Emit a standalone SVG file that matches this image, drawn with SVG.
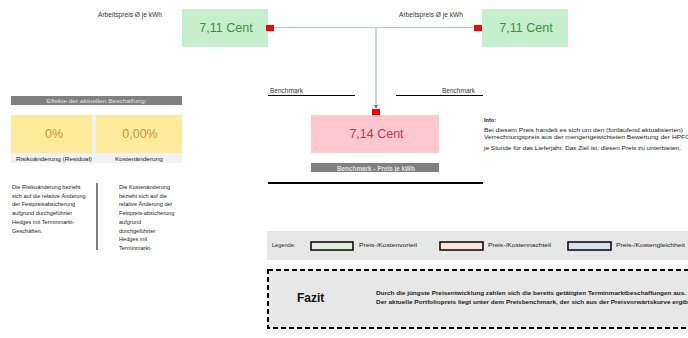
<svg xmlns="http://www.w3.org/2000/svg" width="688" height="338" viewBox="0 0 688 338">
<style>
text{font-family:"Liberation Sans",Arial,sans-serif}
.lbl{font-size:6.3px;fill:#333}
.big{font-size:12.5px}
.par{font-size:5.6px;fill:#222}
.b{font-weight:bold}
.red{fill:#ff0000}
.leg{stroke:#000;stroke-width:1.5}
.gtx{fill:#3c8f3c}
.rtx{fill:#c0394a}
.ytx{fill:#c9923a}
.wtx{fill:#e0e0e0}
</style>
<defs>
<marker id="ah" viewBox="0 0 6 6" refX="5" refY="3" markerWidth="4" markerHeight="4" orient="auto">
<path d="M0,0 L6,3 L0,6 z" fill="#4472c4"/>
</marker>
</defs>
<rect width="688" height="338" fill="#fff"/>

<g id="connectors">
<line x1="274" y1="27.5" x2="474" y2="27.5" stroke="#b4c7e7" stroke-width="1"/>
<line x1="376" y1="27.5" x2="376" y2="108" stroke="#8eaadb" stroke-width="1" marker-end="url(#ah)"/>
</g>

<g id="node-left-price">
<text class="lbl" x="98" y="17" textLength="64" lengthAdjust="spacingAndGlyphs">Arbeitspreis Ø je kWh</text>
<rect x="182" y="9" width="86" height="38" fill="#c6efce"/>
<text class="big gtx" x="226" y="32" text-anchor="middle">7,11 Cent</text>
<rect class="red" x="266" y="25" width="8" height="6"/>
</g>

<g id="node-right-price">
<text class="lbl" x="399" y="17" textLength="64" lengthAdjust="spacingAndGlyphs">Arbeitspreis Ø je kWh</text>
<rect x="482" y="9" width="86" height="38" fill="#c6efce"/>
<text class="big gtx" x="526" y="32" text-anchor="middle">7,11 Cent</text>
<rect class="red" x="474" y="25" width="8" height="6"/>
</g>

<g id="node-benchmark">
<text class="lbl" x="270" y="93" textLength="33" lengthAdjust="spacingAndGlyphs">Benchmark</text>
<line x1="268" y1="95.5" x2="355" y2="95.5" stroke="#000" stroke-width="1"/>
<text class="lbl" x="442" y="93" textLength="33" lengthAdjust="spacingAndGlyphs">Benchmark</text>
<line x1="396" y1="95.5" x2="483" y2="95.5" stroke="#000" stroke-width="1"/>
<rect class="red" x="372" y="109" width="8" height="6"/>
<rect x="311" y="115" width="128" height="38" fill="#ffc7ce"/>
<text class="big rtx" x="376.5" y="138" text-anchor="middle">7,14 Cent</text>
<rect x="311" y="163" width="128" height="9" fill="#808080"/>
<text class="lbl b wtx" x="376" y="170.5" text-anchor="middle" textLength="78" lengthAdjust="spacingAndGlyphs">Benchmark - Preis je kWh</text>
<line x1="268" y1="183" x2="483" y2="183" stroke="#000" stroke-width="2"/>
</g>

<g id="node-info">
<text class="par b" x="484" y="122">Info:</text>
<text class="par" x="484" y="132" textLength="199" lengthAdjust="spacingAndGlyphs">Bei diesem Preis handelt es sich um den (fortlaufend aktualisierten)</text>
<text class="par" x="484" y="139" textLength="206" lengthAdjust="spacingAndGlyphs">Verrechnungspreis aus der mengengewichteten Bewertung der HPFC</text>
<text class="par" x="484" y="150" textLength="197" lengthAdjust="spacingAndGlyphs">je Stunde für das Lieferjahr. Das Ziel ist, diesen Preis zu unterbieten.</text>
</g>

<g id="node-effects">
<rect x="11" y="96" width="171" height="9" fill="#808080"/>
<text class="par wtx" x="96.5" y="103" text-anchor="middle" textLength="100" lengthAdjust="spacingAndGlyphs">Effekte der aktuellen Beschaffung:</text>
<rect x="11" y="115" width="171" height="48" fill="#f2f2f2"/>
<rect x="11" y="115" width="81" height="38" fill="#ffeb9c"/>
<rect x="96" y="115" width="86" height="38" fill="#ffeb9c"/>
<text class="big ytx" x="54" y="138" text-anchor="middle">0%</text>
<text class="big ytx" x="140" y="138" text-anchor="middle">0,00%</text>
<text class="par" x="16" y="161" textLength="76" lengthAdjust="spacingAndGlyphs">Risikoänderung (Residual)</text>
<text class="par" x="139" y="161" text-anchor="middle" textLength="48" lengthAdjust="spacingAndGlyphs">Kostenänderung</text>
</g>

<g id="node-risk-text">
<text class="par" x="12" y="189">Die Risikoänderung bezieht</text>
<text class="par" x="12" y="197.7">sich auf die relative Änderung</text>
<text class="par" x="12" y="206.4">der Festpreisabsicherung</text>
<text class="par" x="12" y="215.1">aufgrund durchgeführter</text>
<text class="par" x="12" y="223.8">Hedges mit Terminmarkt-</text>
<text class="par" x="12" y="232.5">Geschäften.</text>
<line x1="97" y1="183" x2="97" y2="250" stroke="#000" stroke-width="1"/>
</g>

<g id="node-cost-text">
<text class="par" x="119" y="189">Die Kostenänderung</text>
<text class="par" x="119" y="197.7">bezieht sich auf die</text>
<text class="par" x="119" y="206.4">relative Änderung der</text>
<text class="par" x="119" y="215.1">Festpreis-absicherung</text>
<text class="par" x="119" y="223.8">aufgrund</text>
<text class="par" x="119" y="232.5">durchgeführter</text>
<text class="par" x="119" y="241.2">Hedges mit</text>
<text class="par" x="119" y="249.9">Terminmarkt-</text>
</g>

<g id="node-legend">
<rect x="267" y="231" width="421" height="29" fill="#e7e7e7"/>
<text class="par" x="272" y="247">Legende:</text>
<rect class="leg" x="311" y="242" width="42" height="8" fill="#e2efda"/>
<text class="par" x="359" y="247" textLength="58" lengthAdjust="spacingAndGlyphs">Preis-/Kostenvorteil</text>
<rect class="leg" x="440" y="242" width="43" height="8" fill="#fce4d6"/>
<text class="par" x="488" y="247" textLength="63" lengthAdjust="spacingAndGlyphs">Preis-/Kostennachteil</text>
<rect class="leg" x="568" y="242" width="43" height="8" fill="#d9e1f2"/>
<text class="par" x="616" y="247" textLength="69" lengthAdjust="spacingAndGlyphs">Preis-/Kostengleichheit</text>
</g>

<g id="node-fazit">
<rect x="268" y="270" width="440" height="58" fill="#e7e7e7" stroke="#000" stroke-width="2" stroke-dasharray="5,3"/>
<text class="b" x="297" y="302" style="font-size:12px;fill:#111">Fazit</text>
<text class="par b" x="376" y="295" textLength="310" lengthAdjust="spacingAndGlyphs">Durch die jüngste Preisentwicklung zahlen sich die bereits getätigten Terminmarktbeschaffungen aus.</text>
<text class="par b" x="376" y="304" textLength="316" lengthAdjust="spacingAndGlyphs">Der aktuelle Portfoliopreis liegt unter dem Preisbenchmark, der sich aus der Preisvorwärtskurve ergibt.</text>
</g>
</svg>
